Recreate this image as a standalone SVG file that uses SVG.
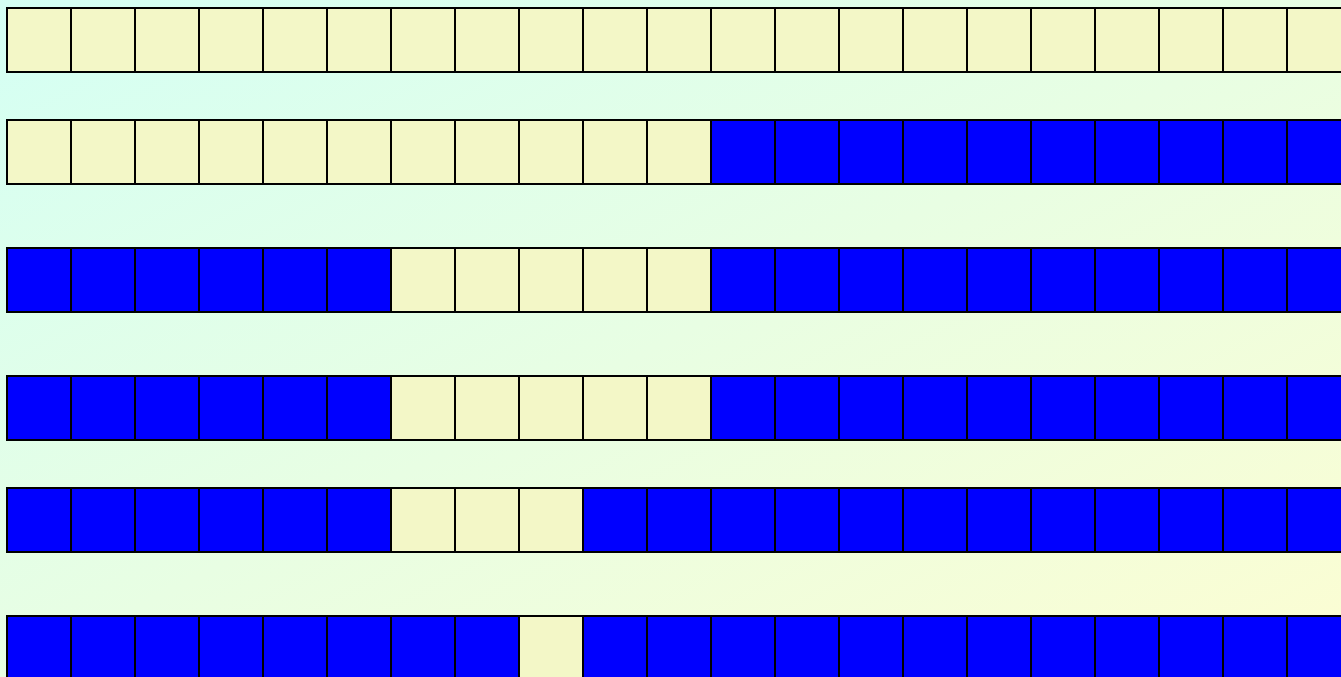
<svg xmlns="http://www.w3.org/2000/svg" width="1341" height="677" viewBox="0 0 1341 677">
<defs>
<linearGradient id="bg" x1="0" y1="0" x2="1" y2="1">
<stop offset="0" stop-color="#d4fff4"/>
<stop offset="1" stop-color="#fcfdd2"/>
</linearGradient>
</defs>
<style>
.c{fill:#f3f7c7;stroke:#000;stroke-width:2}
.b{fill:#0000ff;stroke:#000;stroke-width:2}
</style>
<rect x="0" y="0" width="1341" height="677" fill="url(#bg)"/>
<g id="row1" transform="translate(7,8)">
<rect class="c" x="0" y="0" width="64" height="64"/><rect class="c" x="64" y="0" width="64" height="64"/><rect class="c" x="128" y="0" width="64" height="64"/><rect class="c" x="192" y="0" width="64" height="64"/><rect class="c" x="256" y="0" width="64" height="64"/><rect class="c" x="320" y="0" width="64" height="64"/><rect class="c" x="384" y="0" width="64" height="64"/><rect class="c" x="448" y="0" width="64" height="64"/><rect class="c" x="512" y="0" width="64" height="64"/><rect class="c" x="576" y="0" width="64" height="64"/><rect class="c" x="640" y="0" width="64" height="64"/><rect class="c" x="704" y="0" width="64" height="64"/><rect class="c" x="768" y="0" width="64" height="64"/><rect class="c" x="832" y="0" width="64" height="64"/><rect class="c" x="896" y="0" width="64" height="64"/><rect class="c" x="960" y="0" width="64" height="64"/><rect class="c" x="1024" y="0" width="64" height="64"/><rect class="c" x="1088" y="0" width="64" height="64"/><rect class="c" x="1152" y="0" width="64" height="64"/><rect class="c" x="1216" y="0" width="64" height="64"/><rect class="c" x="1280" y="0" width="64" height="64"/>
</g>
<g id="row2" transform="translate(7,120)">
<rect class="c" x="0" y="0" width="64" height="64"/><rect class="c" x="64" y="0" width="64" height="64"/><rect class="c" x="128" y="0" width="64" height="64"/><rect class="c" x="192" y="0" width="64" height="64"/><rect class="c" x="256" y="0" width="64" height="64"/><rect class="c" x="320" y="0" width="64" height="64"/><rect class="c" x="384" y="0" width="64" height="64"/><rect class="c" x="448" y="0" width="64" height="64"/><rect class="c" x="512" y="0" width="64" height="64"/><rect class="c" x="576" y="0" width="64" height="64"/><rect class="c" x="640" y="0" width="64" height="64"/><rect class="b" x="704" y="0" width="64" height="64"/><rect class="b" x="768" y="0" width="64" height="64"/><rect class="b" x="832" y="0" width="64" height="64"/><rect class="b" x="896" y="0" width="64" height="64"/><rect class="b" x="960" y="0" width="64" height="64"/><rect class="b" x="1024" y="0" width="64" height="64"/><rect class="b" x="1088" y="0" width="64" height="64"/><rect class="b" x="1152" y="0" width="64" height="64"/><rect class="b" x="1216" y="0" width="64" height="64"/><rect class="b" x="1280" y="0" width="64" height="64"/>
</g>
<g id="row3" transform="translate(7,248)">
<rect class="b" x="0" y="0" width="64" height="64"/><rect class="b" x="64" y="0" width="64" height="64"/><rect class="b" x="128" y="0" width="64" height="64"/><rect class="b" x="192" y="0" width="64" height="64"/><rect class="b" x="256" y="0" width="64" height="64"/><rect class="b" x="320" y="0" width="64" height="64"/><rect class="c" x="384" y="0" width="64" height="64"/><rect class="c" x="448" y="0" width="64" height="64"/><rect class="c" x="512" y="0" width="64" height="64"/><rect class="c" x="576" y="0" width="64" height="64"/><rect class="c" x="640" y="0" width="64" height="64"/><rect class="b" x="704" y="0" width="64" height="64"/><rect class="b" x="768" y="0" width="64" height="64"/><rect class="b" x="832" y="0" width="64" height="64"/><rect class="b" x="896" y="0" width="64" height="64"/><rect class="b" x="960" y="0" width="64" height="64"/><rect class="b" x="1024" y="0" width="64" height="64"/><rect class="b" x="1088" y="0" width="64" height="64"/><rect class="b" x="1152" y="0" width="64" height="64"/><rect class="b" x="1216" y="0" width="64" height="64"/><rect class="b" x="1280" y="0" width="64" height="64"/>
</g>
<g id="row4" transform="translate(7,376)">
<rect class="b" x="0" y="0" width="64" height="64"/><rect class="b" x="64" y="0" width="64" height="64"/><rect class="b" x="128" y="0" width="64" height="64"/><rect class="b" x="192" y="0" width="64" height="64"/><rect class="b" x="256" y="0" width="64" height="64"/><rect class="b" x="320" y="0" width="64" height="64"/><rect class="c" x="384" y="0" width="64" height="64"/><rect class="c" x="448" y="0" width="64" height="64"/><rect class="c" x="512" y="0" width="64" height="64"/><rect class="c" x="576" y="0" width="64" height="64"/><rect class="c" x="640" y="0" width="64" height="64"/><rect class="b" x="704" y="0" width="64" height="64"/><rect class="b" x="768" y="0" width="64" height="64"/><rect class="b" x="832" y="0" width="64" height="64"/><rect class="b" x="896" y="0" width="64" height="64"/><rect class="b" x="960" y="0" width="64" height="64"/><rect class="b" x="1024" y="0" width="64" height="64"/><rect class="b" x="1088" y="0" width="64" height="64"/><rect class="b" x="1152" y="0" width="64" height="64"/><rect class="b" x="1216" y="0" width="64" height="64"/><rect class="b" x="1280" y="0" width="64" height="64"/>
</g>
<g id="row5" transform="translate(7,488)">
<rect class="b" x="0" y="0" width="64" height="64"/><rect class="b" x="64" y="0" width="64" height="64"/><rect class="b" x="128" y="0" width="64" height="64"/><rect class="b" x="192" y="0" width="64" height="64"/><rect class="b" x="256" y="0" width="64" height="64"/><rect class="b" x="320" y="0" width="64" height="64"/><rect class="c" x="384" y="0" width="64" height="64"/><rect class="c" x="448" y="0" width="64" height="64"/><rect class="c" x="512" y="0" width="64" height="64"/><rect class="b" x="576" y="0" width="64" height="64"/><rect class="b" x="640" y="0" width="64" height="64"/><rect class="b" x="704" y="0" width="64" height="64"/><rect class="b" x="768" y="0" width="64" height="64"/><rect class="b" x="832" y="0" width="64" height="64"/><rect class="b" x="896" y="0" width="64" height="64"/><rect class="b" x="960" y="0" width="64" height="64"/><rect class="b" x="1024" y="0" width="64" height="64"/><rect class="b" x="1088" y="0" width="64" height="64"/><rect class="b" x="1152" y="0" width="64" height="64"/><rect class="b" x="1216" y="0" width="64" height="64"/><rect class="b" x="1280" y="0" width="64" height="64"/>
</g>
<g id="row6" transform="translate(7,616)">
<rect class="b" x="0" y="0" width="64" height="64"/><rect class="b" x="64" y="0" width="64" height="64"/><rect class="b" x="128" y="0" width="64" height="64"/><rect class="b" x="192" y="0" width="64" height="64"/><rect class="b" x="256" y="0" width="64" height="64"/><rect class="b" x="320" y="0" width="64" height="64"/><rect class="b" x="384" y="0" width="64" height="64"/><rect class="b" x="448" y="0" width="64" height="64"/><rect class="c" x="512" y="0" width="64" height="64"/><rect class="b" x="576" y="0" width="64" height="64"/><rect class="b" x="640" y="0" width="64" height="64"/><rect class="b" x="704" y="0" width="64" height="64"/><rect class="b" x="768" y="0" width="64" height="64"/><rect class="b" x="832" y="0" width="64" height="64"/><rect class="b" x="896" y="0" width="64" height="64"/><rect class="b" x="960" y="0" width="64" height="64"/><rect class="b" x="1024" y="0" width="64" height="64"/><rect class="b" x="1088" y="0" width="64" height="64"/><rect class="b" x="1152" y="0" width="64" height="64"/><rect class="b" x="1216" y="0" width="64" height="64"/><rect class="b" x="1280" y="0" width="64" height="64"/>
</g>
</svg>
